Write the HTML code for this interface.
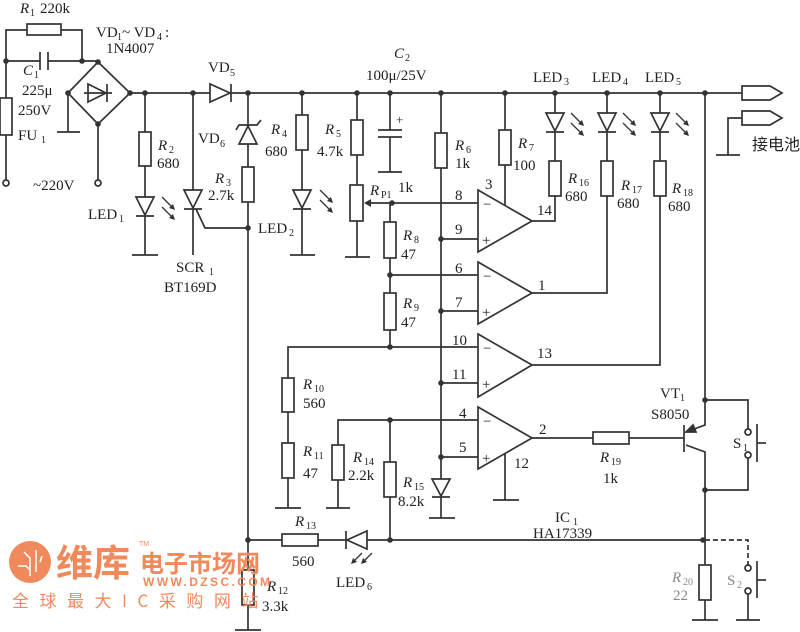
<!DOCTYPE html>
<html><head><meta charset="utf-8"><style>
html,body{margin:0;padding:0;background:#fff;}
svg{display:block}
text{font-family:"Liberation Serif","Noto Serif CJK SC",serif;fill:#222;font-size:15px}
.i{font-style:italic}
.s{font-size:10px}
</style></head><body>
<svg width="800" height="632" viewBox="0 0 800 632" xmlns="http://www.w3.org/2000/svg">
<g stroke="#333" stroke-width="1.7" fill="none">
<polyline points="6,182 6,30 82,30 82,61"/>
<rect x="27" y="24" width="34" height="11" fill="#fff"/>
<line x1="6" y1="61" x2="40" y2="61"/><line x1="48" y1="61" x2="98" y2="61"/>
<line x1="40" y1="52" x2="40" y2="70"/><line x1="48" y1="52" x2="48" y2="70"/>
<rect x="0" y="98" width="12" height="37" fill="#fff"/>
<polygon points="98,62 130,93 98,124 68,93"/>
<polygon points="88,84 88,102 106,93"/><line x1="107" y1="84" x2="107" y2="102"/><line x1="84" y1="93" x2="112" y2="93"/>
<polyline points="68,93 68,132"/><line x1="57" y1="132" x2="80" y2="132"/>
<line x1="98" y1="124" x2="98" y2="180"/>
<circle cx="6" cy="183" r="3" fill="#fff"/><circle cx="98" cy="183" r="3" fill="#fff"/>
<line x1="130" y1="93" x2="742" y2="93"/>
<polygon points="742,86 770,86 782,93 770,100 742,100" fill="#fff"/>
<polygon points="742,111 770,111 782,118 770,125 742,125" fill="#fff"/>
<polyline points="742,118 728,118 728,155"/><line x1="716" y1="155" x2="740" y2="155"/>
<polygon points="210,84 210,102 230,93" fill="#fff"/><line x1="231" y1="84" x2="231" y2="102"/>
<line x1="145" y1="93" x2="145" y2="255"/><rect x="139" y="132" width="12" height="34" fill="#fff"/>
<polygon points="136,197 154,197 145,215" fill="#fff"/><line x1="136" y1="216" x2="154" y2="216"/>
<line x1="132" y1="255" x2="158" y2="255"/>
<line x1="193" y1="93" x2="193" y2="255"/>
<polygon points="184,190 202,190 193,208" fill="#fff"/><line x1="184" y1="209" x2="202" y2="209"/>
<polyline points="196,209 205,228 248,228"/>
<line x1="248" y1="93" x2="248" y2="630"/>
<polygon points="239,144 257,144 248,126" fill="#fff"/><polyline points="236,130 239,125 257,125 261,120"/>
<rect x="242" y="167" width="12" height="35" fill="#fff"/>
<rect x="242" y="570" width="12" height="35" fill="#fff"/>
<line x1="235" y1="630" x2="261" y2="630"/>
<line x1="302" y1="93" x2="302" y2="255"/><rect x="296" y="115" width="12" height="35" fill="#fff"/>
<polygon points="293,190 311,190 302,208" fill="#fff"/><line x1="293" y1="209" x2="311" y2="209"/>
<line x1="290" y1="255" x2="315" y2="255"/>
<line x1="357" y1="93" x2="357" y2="257"/><rect x="351" y="120" width="12" height="35" fill="#fff"/>
<rect x="350" y="185" width="13" height="36" fill="#fff"/><line x1="345" y1="257" x2="370" y2="257"/>
<line x1="392" y1="203" x2="366" y2="203"/>
<line x1="390" y1="93" x2="390" y2="130"/><line x1="378" y1="130" x2="402" y2="130"/>
<line x1="378" y1="137" x2="402" y2="137"/><line x1="390" y1="137" x2="390" y2="172"/>
<line x1="378" y1="172" x2="402" y2="172"/>
<line x1="392" y1="203" x2="478" y2="203"/>
<line x1="390" y1="203" x2="390" y2="347"/>
<rect x="384" y="222" width="12" height="36" fill="#fff"/>
<rect x="384" y="293" width="12" height="37" fill="#fff"/>
<line x1="390" y1="275" x2="478" y2="275"/>
<polyline points="288,508 288,347 478,347"/>
<rect x="282" y="378" width="12" height="34" fill="#fff"/>
<rect x="282" y="443" width="12" height="35" fill="#fff"/>
<line x1="275" y1="508" x2="301" y2="508"/>
<line x1="441" y1="93" x2="441" y2="518"/><rect x="435" y="133" width="12" height="35" fill="#fff"/>
<line x1="441" y1="239" x2="478" y2="239"/><line x1="441" y1="311" x2="478" y2="311"/>
<line x1="441" y1="383" x2="478" y2="383"/><line x1="441" y1="457" x2="478" y2="457"/>
<polygon points="432,479 450,479 441,496" fill="#fff"/><line x1="432" y1="497" x2="450" y2="497"/>
<line x1="429" y1="518" x2="455" y2="518"/>
<polyline points="338,508 338,420 478,420"/><rect x="332" y="445" width="12" height="35" fill="#fff"/>
<line x1="326" y1="508" x2="350" y2="508"/>
<line x1="390" y1="420" x2="390" y2="540"/><rect x="384" y="462" width="12" height="35" fill="#fff"/>
<line x1="248" y1="540" x2="705" y2="540"/>
<rect x="282" y="534" width="36" height="12" fill="#fff"/>
<polygon points="367,531 367,549 347,540" fill="#fff"/><line x1="346" y1="531" x2="346" y2="549"/>
<polygon points="478,190 478,252 532,221" fill="#fff"/>
<polygon points="478,262 478,324 532,293" fill="#fff"/>
<polygon points="478,334 478,397 532,365" fill="#fff"/>
<polygon points="478,407 478,469 532,438" fill="#fff"/>
<line x1="505" y1="93" x2="505" y2="205"/><rect x="499" y="130" width="12" height="35" fill="#fff"/>
<line x1="505" y1="453" x2="505" y2="500"/><line x1="493" y1="500" x2="519" y2="500"/>
<polyline points="532,221 555,221 555,93"/><rect x="549" y="161" width="12" height="35" fill="#fff"/>
<polygon points="546,113 564,113 555,131" fill="#fff"/><line x1="546" y1="132" x2="564" y2="132"/>
<polyline points="532,293 607,293 607,93"/><rect x="601" y="161" width="12" height="35" fill="#fff"/>
<polygon points="598,113 616,113 607,131" fill="#fff"/><line x1="598" y1="132" x2="616" y2="132"/>
<polyline points="532,365 660,365 660,93"/><rect x="654" y="161" width="12" height="35" fill="#fff"/>
<polygon points="651,113 669,113 660,131" fill="#fff"/><line x1="651" y1="132" x2="669" y2="132"/>
<line x1="532" y1="438" x2="684" y2="438"/><rect x="593" y="432" width="36" height="12" fill="#fff"/>
<line x1="684" y1="425" x2="684" y2="452"/>
<polyline points="705,93 705,425 686,432"/>
<polyline points="686,445 705,452 705,540"/>
<polygon points="686,432 693,425 696,432" fill="#333"/>
<polyline points="705,400 748,400 748,429"/><polyline points="748,458 748,490 705,490"/>
<circle cx="748" cy="432" r="3" fill="#fff"/><circle cx="748" cy="455" r="3" fill="#fff"/>
<line x1="757" y1="424" x2="757" y2="462"/><line x1="757" y1="443" x2="766" y2="443"/>
<line x1="705" y1="540" x2="705" y2="620"/><rect x="699" y="565" width="12" height="35" fill="#fff"/>
<line x1="692" y1="620" x2="718" y2="620"/>
<polyline points="705,540 748,540 748,565" stroke-dasharray="5,3"/>
<line x1="748" y1="594" x2="748" y2="620"/><line x1="736" y1="620" x2="760" y2="620"/>
<circle cx="748" cy="568" r="3" fill="#fff"/><circle cx="748" cy="591" r="3" fill="#fff"/>
<line x1="757" y1="561" x2="757" y2="598"/><line x1="757" y1="580" x2="766" y2="580"/>
<g stroke-width="1.3">
<path d="M162,197 L174,209 M162,207 L174,219"/>
<path d="M320,190 L332,202 M320,200 L332,212"/>
<path d="M571,113 L583,125 M571,123 L583,135"/>
<path d="M623,113 L635,125 M623,123 L635,135"/>
<path d="M676,113 L688,125 M676,123 L688,135"/>
<path d="M362,553 L352,563 M372,553 L362,563"/>
</g>
<g fill="#333" stroke="none">
<polygon points="175,210 169,208 173,204"/><polygon points="175,220 169,218 173,214"/>
<polygon points="333,203 327,201 331,197"/><polygon points="333,213 327,211 331,207"/>
<polygon points="584,126 578,124 582,120"/><polygon points="584,136 578,134 582,130"/>
<polygon points="636,126 630,124 634,120"/><polygon points="636,136 630,134 634,130"/>
<polygon points="689,126 683,124 687,120"/><polygon points="689,136 683,134 687,130"/>
<polygon points="351,564 353,558 357,562"/><polygon points="361,564 363,558 367,562"/>
<polygon points="364,203 371,199 371,207"/>
</g>
</g>
<g fill="#333">
<circle cx="6" cy="61" r="2.8"/><circle cx="82" cy="61" r="2.8"/><circle cx="98" cy="62" r="2.8"/><circle cx="68" cy="93" r="2.8"/><circle cx="98" cy="124" r="2.8"/><circle cx="130" cy="93" r="2.8"/>
<circle cx="145" cy="93" r="2.8"/><circle cx="193" cy="93" r="2.8"/><circle cx="248" cy="93" r="2.8"/><circle cx="302" cy="93" r="2.8"/><circle cx="357" cy="93" r="2.8"/><circle cx="390" cy="93" r="2.8"/><circle cx="441" cy="93" r="2.8"/><circle cx="505" cy="93" r="2.8"/><circle cx="555" cy="93" r="2.8"/><circle cx="607" cy="93" r="2.8"/><circle cx="660" cy="93" r="2.8"/><circle cx="705" cy="93" r="2.8"/>
<circle cx="248" cy="228" r="2.8"/><circle cx="392" cy="203" r="2.8"/><circle cx="390" cy="275" r="2.8"/><circle cx="390" cy="347" r="2.8"/>
<circle cx="441" cy="239" r="2.8"/><circle cx="441" cy="311" r="2.8"/><circle cx="441" cy="383" r="2.8"/><circle cx="441" cy="457" r="2.8"/>
<circle cx="390" cy="420" r="2.8"/><circle cx="390" cy="540" r="2.8"/><circle cx="248" cy="540" r="2.8"/>
<circle cx="705" cy="400" r="2.8"/><circle cx="705" cy="490" r="2.8"/><circle cx="703" cy="540" r="2.8"/>
</g>
<text x="20" y="13" class="i">R</text><text x="30" y="16" class="s">1</text><text x="40" y="13">220k</text>
<text x="96" y="37">VD</text><text x="117" y="40" class="s">1</text><text x="122" y="37">~ VD</text><text x="157" y="40" class="s">4</text><text x="165" y="37">:</text>
<text x="106" y="53">1N4007</text>
<text x="23" y="75" class="i">C</text><text x="34" y="78" class="s">1</text>
<text x="22" y="95">225μ</text><text x="18" y="115">250V</text>
<text x="18" y="140">FU</text><text x="41" y="143" class="s">1</text>
<text x="33" y="190">~220V</text>
<text x="208" y="72">VD</text><text x="230" y="76" class="s">5</text>
<text x="198" y="143">VD</text><text x="220" y="147" class="s">6</text>
<text x="158" y="150" class="i">R</text><text x="169" y="153" class="s">2</text><text x="157" y="168">680</text>
<text x="88" y="219">LED</text><text x="119" y="222" class="s">1</text>
<text x="215" y="183" class="i">R</text><text x="226" y="186" class="s">3</text><text x="208" y="200">2.7k</text>
<text x="258" y="233">LED</text><text x="289" y="236" class="s">2</text>
<text x="176" y="272">SCR</text><text x="209" y="275" class="s">1</text><text x="164" y="292">BT169D</text>
<text x="271" y="134" class="i">R</text><text x="282" y="137" class="s">4</text><text x="265" y="156">680</text>
<text x="325" y="134" class="i">R</text><text x="336" y="137" class="s">5</text><text x="317" y="156">4.7k</text>
<text x="370" y="195" class="i">R</text><text x="381" y="198" class="s">P1</text><text x="398" y="192">1k</text>
<text x="394" y="58" class="i">C</text><text x="405" y="61" class="s">2</text><text x="366" y="80">100μ/25V</text>
<text x="396" y="124" style="font-size:13px">+</text>
<text x="403" y="240" class="i">R</text><text x="414" y="243" class="s">8</text><text x="401" y="259">47</text>
<text x="403" y="308" class="i">R</text><text x="414" y="311" class="s">9</text><text x="401" y="327">47</text>
<text x="455" y="150" class="i">R</text><text x="466" y="153" class="s">6</text><text x="455" y="168">1k</text>
<text x="518" y="148" class="i">R</text><text x="529" y="151" class="s">7</text><text x="513" y="170">100</text>
<text x="533" y="82">LED</text><text x="564" y="85" class="s">3</text>
<text x="592" y="82">LED</text><text x="623" y="85" class="s">4</text>
<text x="645" y="82">LED</text><text x="676" y="85" class="s">5</text>
<text x="568" y="183" class="i">R</text><text x="579" y="186" class="s">16</text><text x="565" y="201">680</text>
<text x="621" y="190" class="i">R</text><text x="632" y="193" class="s">17</text><text x="617" y="208">680</text>
<text x="672" y="193" class="i">R</text><text x="683" y="196" class="s">18</text><text x="668" y="211">680</text>
<text x="752" y="150" style="font-family:'Noto Sans CJK SC',sans-serif;font-size:16px">接电池</text>
<text x="455" y="200">8</text><text x="485" y="189">3</text><text x="455" y="234">9</text><text x="537" y="215">14</text>
<text x="455" y="273">6</text><text x="455" y="307">7</text><text x="538" y="290">1</text>
<text x="452" y="345">10</text><text x="452" y="379">11</text><text x="537" y="358">13</text>
<text x="459" y="418">4</text><text x="459" y="452">5</text><text x="539" y="434">2</text><text x="514" y="468">12</text>
<g style="font-size:14px"><text x="483" y="209">−</text><text x="482" y="245">+</text><text x="483" y="281">−</text><text x="482" y="317">+</text><text x="483" y="353">−</text><text x="482" y="389">+</text><text x="483" y="426">−</text><text x="482" y="463">+</text></g>
<text x="303" y="389" class="i">R</text><text x="314" y="392" class="s">10</text><text x="303" y="408">560</text>
<text x="303" y="456" class="i">R</text><text x="314" y="459" class="s">11</text><text x="303" y="478">47</text>
<text x="353" y="462" class="i">R</text><text x="364" y="465" class="s">14</text><text x="348" y="480">2.2k</text>
<text x="403" y="487" class="i">R</text><text x="414" y="490" class="s">15</text><text x="398" y="506">8.2k</text>
<text x="295" y="526" class="i">R</text><text x="306" y="529" class="s">13</text><text x="292" y="566">560</text>
<text x="336" y="587">LED</text><text x="367" y="590" class="s">6</text>
<text x="267" y="591" class="i">R</text><text x="278" y="594" class="s">12</text><text x="262" y="611">3.3k</text>
<text x="555" y="522">IC</text><text x="573" y="525" class="s">1</text><text x="533" y="538">HA17339</text>
<text x="600" y="462" class="i">R</text><text x="611" y="465" class="s">19</text><text x="603" y="483">1k</text>
<text x="660" y="398">VT</text><text x="680" y="401" class="s">1</text><text x="651" y="419">S8050</text>
<text x="733" y="448">S</text><text x="743" y="451" class="s">1</text>
<text x="672" y="582" class="i" style="fill:#888">R</text><text x="683" y="585" class="s" style="fill:#888">20</text><text x="673" y="600" style="fill:#888">22</text>
<text x="727" y="585" style="fill:#888">S</text><text x="737" y="588" class="s" style="fill:#888">2</text>
<circle cx="30" cy="562" r="21" fill="#f08a5d"/>
<g stroke="#fff" stroke-width="1.5" fill="none"><path d="M18,566 L26,566 L30,570 M24,552 L30,558 L30,576 M36,550 L36,572 M42,556 L40,562"/></g>
<text x="56" y="576" style="font-family:'Noto Sans CJK SC',sans-serif;font-size:37px;font-weight:bold;fill:#f08a5d">维库</text>
<text x="140" y="572" style="font-family:'Noto Sans CJK SC',sans-serif;font-size:24px;font-weight:bold;fill:#f08a5d">电子市场网</text>
<text x="139" y="546" style="font-family:'Liberation Sans',sans-serif;font-size:7px;fill:#f08a5d">TM</text>
<text x="143" y="586" style="font-family:'Liberation Sans',sans-serif;font-size:12px;font-weight:bold;letter-spacing:2.4px;fill:#f08a5d">WWW.DZSC.COM</text>
<text x="12" y="607" style="font-family:'Noto Sans CJK SC',sans-serif;font-size:17px;letter-spacing:10.5px;fill:#f08a5d">全球最大IC采购网站</text>
</svg>
</body></html>
